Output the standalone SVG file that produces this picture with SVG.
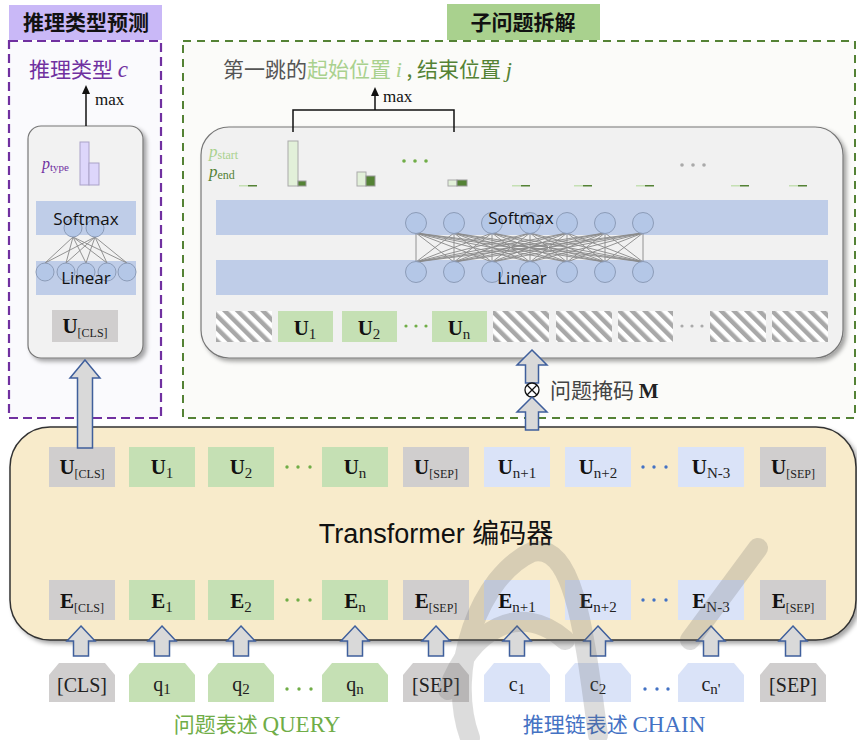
<svg xmlns="http://www.w3.org/2000/svg" width="857" height="740" viewBox="0 0 857 740">
<style>
.title{font-family:"Noto Sans CJK SC",sans-serif;font-weight:bold;font-size:21px;fill:#111}
.cjk{font-family:"Noto Sans CJK SC",sans-serif}
.serif{font-family:"Liberation Serif","Noto Sans CJK SC",serif}
.b{font-family:"Liberation Serif",serif;font-weight:bold;font-size:21px;fill:#111}
.s{font-family:"Liberation Serif",serif;font-size:15px;fill:#222}
.ss{font-family:"Liberation Serif",serif;font-size:12px;fill:#222}
.tok{font-family:"Liberation Serif",serif;font-size:20px;fill:#222}
.sans{font-family:"Open Sans","Liberation Sans",sans-serif;font-size:17px;fill:#111}
.gray{fill:#d0cece}
.green{fill:#c5e0b4}
.blue{fill:#dae3f8}
.band{fill:#bfcde8}
.neur{fill:#b4c7e7;stroke:#8c9cb8;stroke-width:1}
.blk{fill:#d9d9d9;stroke:#3f5f9c;stroke-width:1.5}
.ln{stroke:#888;stroke-width:0.9;fill:none}
.barL{fill:#e2f0d9;stroke:#aaa;stroke-width:1}
.barD{fill:#548235;stroke:#999;stroke-width:1}
.dotG{fill:#70ad47}
.dotB{fill:#4472c4}
.dotK{fill:#aaa}
</style>
<defs>
<pattern id="hatch" patternUnits="userSpaceOnUse" width="9" height="9" patternTransform="rotate(-45)">
<rect width="9" height="9" fill="#fff"/>
<rect width="4.5" height="9" fill="#a8a8a8"/>
</pattern>
<filter id="sh" x="-5%" y="-5%" width="115%" height="115%">
<feDropShadow dx="3" dy="3" stdDeviation="2" flood-color="#000" flood-opacity="0.35"/>
</filter>
<marker id="ah" markerWidth="10" markerHeight="10" refX="5" refY="5" orient="auto" markerUnits="userSpaceOnUse">
<path d="M0,1 L9,5 L0,9 Z" fill="#111"/>
</marker>
<path id="barrow" d="M0,0 L14,15 L7.5,15 L7.5,30 L-7.5,30 L-7.5,15 L-14,15 Z"/>
</defs>

<rect width="857" height="740" fill="#fff"/>

<!-- Left panel: reasoning type prediction -->
<g id="type-panel">
<rect x="9" y="5" width="153" height="35" fill="#c9b8f7"/>
<text x="86" y="30" text-anchor="middle" class="title">推理类型预测</text>
<rect x="9" y="41" width="152" height="377" fill="#fafafd" stroke="#7030a0" stroke-width="2.2" stroke-dasharray="9 5"/>
<text x="29" y="77" class="cjk" font-size="21" fill="#7030a0">推理类型 <tspan class="serif" font-style="italic" font-size="23">c</tspan></text>
<text x="95" y="105" class="serif" font-size="17" fill="#111">max</text>
</g>

<g id="type-head">
<rect x="28" y="126" width="115" height="232" rx="13" fill="#f2f2f2" stroke="#777" stroke-width="1.2" filter="url(#sh)"/>
<text x="42" y="169" class="serif" font-style="italic" font-size="16" fill="#7030a0">p<tspan font-size="11" font-style="normal" dy="2">type</tspan></text>
<rect x="80" y="142" width="9" height="43" fill="#ddd6fb" stroke="#aaa2c8"/>
<rect x="89" y="163" width="10" height="22" fill="#ddd6fb" stroke="#aaa2c8"/>
<rect x="36" y="201" width="100" height="34" class="band"/>
<rect x="36" y="261" width="100" height="34" class="band"/>
<path class="ln" d="M73 237L45 263M73 237L66 263M73 237L86 263M73 237L107 263M73 237L127 263M95 237L45 263M95 237L66 263M95 237L86 263M95 237L107 263M95 237L127 263"/>
<circle cx="73" cy="228" r="9" class="neur"/>
<circle cx="95" cy="228" r="9" class="neur"/>
<circle cx="45" cy="272" r="9" class="neur"/>
<circle cx="66" cy="272" r="9" class="neur"/>
<circle cx="86" cy="272" r="9" class="neur"/>
<circle cx="107" cy="272" r="9" class="neur"/>
<circle cx="127" cy="272" r="9" class="neur"/>
<text x="86" y="225" text-anchor="middle" class="sans">Softmax</text>
<text x="86" y="284" text-anchor="middle" class="sans">Linear</text>
<rect x="52" y="310" width="66" height="32" class="gray"/>
<text x="85" y="333" text-anchor="middle"><tspan class="b">U</tspan><tspan class="ss" dy="4">[CLS]</tspan></text>
</g>

<!-- Right panel: sub-question decomposition -->
<g id="span-panel">
<rect x="447" y="4" width="153" height="36" fill="#a9d18e"/>
<text x="523" y="30" text-anchor="middle" class="title">子问题拆解</text>
<rect x="183" y="41" width="672" height="377" fill="#fbfbf9" stroke="#548235" stroke-width="2" stroke-dasharray="8 6"/>
<text x="223" y="77" class="cjk" font-size="21" fill="#555">第一跳的<tspan fill="#a9d18e">起始位置 <tspan class="serif" font-style="italic" font-size="22">i</tspan></tspan><tspan fill="#548235"> , 结束位置 <tspan class="serif" font-style="italic" font-size="22">j</tspan></tspan></text>
<text x="383" y="102" class="serif" font-size="17" fill="#111">max</text>
</g>

<g id="span-head">
<rect x="201" y="127" width="642" height="231" rx="28" fill="#f1f1f1" stroke="#777" stroke-width="1.2" filter="url(#sh)"/>
<text x="209" y="157" class="serif" font-style="italic" font-size="17" fill="#a9d18e">p<tspan font-size="12" font-style="normal" dy="2">start</tspan></text>
<text x="209" y="177" class="serif" font-style="italic" font-size="17" fill="#548235">p<tspan font-size="12" font-style="normal" dy="2">end</tspan></text>
<rect x="288" y="141" width="10" height="45" class="barL"/>
<rect x="298" y="181" width="8" height="5" class="barD"/>
<rect x="357" y="172" width="9" height="14" class="barL"/>
<rect x="366" y="176" width="9" height="10" class="barD"/>
<rect x="448" y="180" width="9" height="6" class="barL"/>
<rect x="457" y="180" width="10" height="6" class="barD"/>
<g>
<rect x="239" y="185" width="9" height="1.5" fill="#c5e0b4"/><rect x="248" y="185" width="9" height="1.5" fill="#548235"/>
<rect x="512" y="185" width="9" height="1.5" fill="#c5e0b4"/><rect x="521" y="185" width="9" height="1.5" fill="#548235"/>
<rect x="574" y="185" width="9" height="1.5" fill="#c5e0b4"/><rect x="583" y="185" width="9" height="1.5" fill="#548235"/>
<rect x="636" y="185" width="9" height="1.5" fill="#c5e0b4"/><rect x="645" y="185" width="9" height="1.5" fill="#548235"/>
<rect x="731" y="185" width="9" height="1.5" fill="#c5e0b4"/><rect x="740" y="185" width="9" height="1.5" fill="#548235"/>
<rect x="789" y="185" width="9" height="1.5" fill="#c5e0b4"/><rect x="798" y="185" width="9" height="1.5" fill="#548235"/>
</g>
<circle cx="404" cy="161" r="1.8" class="dotG"/><circle cx="415" cy="161" r="1.8" class="dotG"/><circle cx="426" cy="161" r="1.8" class="dotG"/>
<circle cx="682" cy="165" r="1.8" class="dotK"/><circle cx="693" cy="165" r="1.8" class="dotK"/><circle cx="704" cy="165" r="1.8" class="dotK"/>
<rect x="216" y="200" width="612" height="35" class="band"/>
<rect x="216" y="260" width="612" height="35" class="band"/>
<path class="ln" d="M416 233L416 262M416 233L454 262M416 233L492 262M416 233L530 262M416 233L567 262M416 233L605 262M416 233L643 262M454 233L416 262M454 233L454 262M454 233L492 262M454 233L530 262M454 233L567 262M454 233L605 262M454 233L643 262M492 233L416 262M492 233L454 262M492 233L492 262M492 233L530 262M492 233L567 262M492 233L605 262M492 233L643 262M530 233L416 262M530 233L454 262M530 233L492 262M530 233L530 262M530 233L567 262M530 233L605 262M530 233L643 262M567 233L416 262M567 233L454 262M567 233L492 262M567 233L530 262M567 233L567 262M567 233L605 262M567 233L643 262M605 233L416 262M605 233L454 262M605 233L492 262M605 233L530 262M605 233L567 262M605 233L605 262M605 233L643 262M643 233L416 262M643 233L454 262M643 233L492 262M643 233L530 262M643 233L567 262M643 233L605 262M643 233L643 262"/>
<g>
<circle cx="416" cy="223" r="10.5" class="neur"/><circle cx="454" cy="223" r="10.5" class="neur"/><circle cx="492" cy="223" r="10.5" class="neur"/><circle cx="530" cy="223" r="10.5" class="neur"/><circle cx="567" cy="223" r="10.5" class="neur"/><circle cx="605" cy="223" r="10.5" class="neur"/><circle cx="643" cy="223" r="10.5" class="neur"/>
<circle cx="416" cy="272" r="10.5" class="neur"/><circle cx="454" cy="272" r="10.5" class="neur"/><circle cx="492" cy="272" r="10.5" class="neur"/><circle cx="530" cy="272" r="10.5" class="neur"/><circle cx="567" cy="272" r="10.5" class="neur"/><circle cx="605" cy="272" r="10.5" class="neur"/><circle cx="643" cy="272" r="10.5" class="neur"/>
</g>
<text x="521" y="224" text-anchor="middle" class="sans">Softmax</text>
<text x="522" y="284" text-anchor="middle" class="sans">Linear</text>
<rect x="216" y="311" width="56" height="31" fill="url(#hatch)"/>
<rect x="278" y="311" width="55" height="31" class="green"/>
<text x="305" y="335" text-anchor="middle"><tspan class="b">U</tspan><tspan class="s" dy="4">1</tspan></text>
<rect x="342" y="311" width="55" height="31" class="green"/>
<text x="369" y="335" text-anchor="middle"><tspan class="b">U</tspan><tspan class="s" dy="4">2</tspan></text>
<circle cx="406" cy="326" r="1.6" class="dotG"/><circle cx="416" cy="326" r="1.6" class="dotG"/><circle cx="426" cy="326" r="1.6" class="dotG"/>
<rect x="432" y="311" width="55" height="31" class="green"/>
<text x="459" y="335" text-anchor="middle"><tspan class="b">U</tspan><tspan class="s" dy="4">n</tspan></text>
<rect x="493" y="311" width="56" height="31" fill="url(#hatch)"/>
<rect x="556" y="311" width="56" height="31" fill="url(#hatch)"/>
<rect x="618" y="311" width="55" height="31" fill="url(#hatch)"/>
<circle cx="682" cy="326" r="1.6" class="dotK"/><circle cx="692" cy="326" r="1.6" class="dotK"/><circle cx="702" cy="326" r="1.6" class="dotK"/>
<rect x="710" y="311" width="56" height="31" fill="url(#hatch)"/>
<rect x="772" y="311" width="56" height="31" fill="url(#hatch)"/>
</g>

<!-- Encoder -->
<g id="encoder">
<rect x="10" y="427" width="846" height="213" rx="40" fill="#f8ebcb" stroke="#333" stroke-width="1.5" filter="url(#sh)"/>
<text x="436" y="543" text-anchor="middle" font-family="Liberation Sans, Noto Sans CJK SC, sans-serif" font-size="27" fill="#111">Transformer 编码器</text>
</g>

<g id="u-row">
<rect x="49" y="447" width="66" height="40" class="gray"/>
<text x="82" y="474" text-anchor="middle"><tspan class="b">U</tspan><tspan class="ss" dy="4">[CLS]</tspan></text>
<rect x="129" y="447" width="66" height="40" class="green"/>
<text x="162" y="474" text-anchor="middle"><tspan class="b">U</tspan><tspan class="s" dy="4">1</tspan></text>
<rect x="208" y="447" width="66" height="40" class="green"/>
<text x="241" y="474" text-anchor="middle"><tspan class="b">U</tspan><tspan class="s" dy="4">2</tspan></text>
<circle cx="287" cy="467" r="1.7" class="dotG"/><circle cx="298" cy="467" r="1.7" class="dotG"/><circle cx="310" cy="467" r="1.7" class="dotG"/>
<rect x="322" y="447" width="66" height="40" class="green"/>
<text x="355" y="474" text-anchor="middle"><tspan class="b">U</tspan><tspan class="s" dy="4">n</tspan></text>
<rect x="403" y="447" width="66" height="40" class="gray"/>
<text x="436" y="474" text-anchor="middle"><tspan class="b">U</tspan><tspan class="ss" dy="4">[SEP]</tspan></text>
<rect x="484" y="447" width="66" height="40" class="blue"/>
<text x="517" y="474" text-anchor="middle"><tspan class="b">U</tspan><tspan class="s" dy="4">n+1</tspan></text>
<rect x="565" y="447" width="66" height="40" class="blue"/>
<text x="598" y="474" text-anchor="middle"><tspan class="b">U</tspan><tspan class="s" dy="4">n+2</tspan></text>
<circle cx="643" cy="467" r="1.7" class="dotB"/><circle cx="654" cy="467" r="1.7" class="dotB"/><circle cx="666" cy="467" r="1.7" class="dotB"/>
<rect x="678" y="447" width="66" height="40" class="blue"/>
<text x="711" y="474" text-anchor="middle"><tspan class="b">U</tspan><tspan class="s" dy="4">N-3</tspan></text>
<rect x="760" y="447" width="66" height="40" class="gray"/>
<text x="793" y="474" text-anchor="middle"><tspan class="b">U</tspan><tspan class="ss" dy="4">[SEP]</tspan></text>
</g>

<g id="e-row">
<rect x="49" y="580" width="66" height="40" class="gray"/>
<text x="82" y="608" text-anchor="middle"><tspan class="b">E</tspan><tspan class="ss" dy="4">[CLS]</tspan></text>
<rect x="129" y="580" width="66" height="40" class="green"/>
<text x="162" y="608" text-anchor="middle"><tspan class="b">E</tspan><tspan class="s" dy="4">1</tspan></text>
<rect x="208" y="580" width="66" height="40" class="green"/>
<text x="241" y="608" text-anchor="middle"><tspan class="b">E</tspan><tspan class="s" dy="4">2</tspan></text>
<circle cx="287" cy="600" r="1.7" class="dotG"/><circle cx="298" cy="600" r="1.7" class="dotG"/><circle cx="310" cy="600" r="1.7" class="dotG"/>
<rect x="322" y="580" width="66" height="40" class="green"/>
<text x="355" y="608" text-anchor="middle"><tspan class="b">E</tspan><tspan class="s" dy="4">n</tspan></text>
<rect x="403" y="580" width="66" height="40" class="gray"/>
<text x="436" y="608" text-anchor="middle"><tspan class="b">E</tspan><tspan class="ss" dy="4">[SEP]</tspan></text>
<rect x="484" y="580" width="66" height="40" class="blue"/>
<text x="517" y="608" text-anchor="middle"><tspan class="b">E</tspan><tspan class="s" dy="4">n+1</tspan></text>
<rect x="565" y="580" width="66" height="40" class="blue"/>
<text x="598" y="608" text-anchor="middle"><tspan class="b">E</tspan><tspan class="s" dy="4">n+2</tspan></text>
<circle cx="643" cy="600" r="1.7" class="dotB"/><circle cx="654" cy="600" r="1.7" class="dotB"/><circle cx="666" cy="600" r="1.7" class="dotB"/>
<rect x="678" y="580" width="66" height="40" class="blue"/>
<text x="711" y="608" text-anchor="middle"><tspan class="b">E</tspan><tspan class="s" dy="4">N-3</tspan></text>
<rect x="760" y="580" width="66" height="40" class="gray"/>
<text x="793" y="608" text-anchor="middle"><tspan class="b">E</tspan><tspan class="ss" dy="4">[SEP]</tspan></text>
</g>

<g id="input-tokens">
<path class="gray" d="M49 675L59 663L105 663L115 675L115 702L49 702Z"/>
<text x="82" y="692" text-anchor="middle" class="tok">[CLS]</text>
<path class="green" d="M129 675L139 663L185 663L195 675L195 702L129 702Z"/>
<text x="162" y="691" text-anchor="middle" class="tok">q<tspan class="s" dy="3">1</tspan></text>
<path class="green" d="M208 675L218 663L264 663L274 675L274 702L208 702Z"/>
<text x="241" y="691" text-anchor="middle" class="tok">q<tspan class="s" dy="3">2</tspan></text>
<circle cx="287" cy="689" r="1.7" class="dotG"/><circle cx="299" cy="689" r="1.7" class="dotG"/><circle cx="311" cy="689" r="1.7" class="dotG"/>
<path class="green" d="M322 675L332 663L378 663L388 675L388 702L322 702Z"/>
<text x="355" y="691" text-anchor="middle" class="tok">q<tspan class="s" dy="3">n</tspan></text>
<path class="gray" d="M403 675L413 663L459 663L469 675L469 702L403 702Z"/>
<text x="436" y="692" text-anchor="middle" class="tok">[SEP]</text>
<path class="blue" d="M484 675L494 663L540 663L550 675L550 702L484 702Z"/>
<text x="517" y="691" text-anchor="middle" class="tok">c<tspan class="s" dy="3">1</tspan></text>
<path class="blue" d="M565 675L575 663L621 663L631 675L631 702L565 702Z"/>
<text x="598" y="691" text-anchor="middle" class="tok">c<tspan class="s" dy="3">2</tspan></text>
<circle cx="645" cy="689" r="1.7" class="dotB"/><circle cx="657" cy="689" r="1.7" class="dotB"/><circle cx="668" cy="689" r="1.7" class="dotB"/>
<path class="blue" d="M678 675L688 663L734 663L744 675L744 702L678 702Z"/>
<text x="711" y="691" text-anchor="middle" class="tok">c<tspan class="s" dy="3">n'</tspan></text>
<path class="gray" d="M760 675L770 663L816 663L826 675L826 702L760 702Z"/>
<text x="793" y="692" text-anchor="middle" class="tok">[SEP]</text>
<text x="257" y="732" text-anchor="middle" class="cjk" font-size="21" fill="#70ad47">问题表述 <tspan class="serif" font-size="23">QUERY</tspan></text>
<text x="614" y="732" text-anchor="middle" class="cjk" font-size="21" fill="#4472c4">推理链表述 <tspan class="serif" font-size="23">CHAIN</tspan></text>
</g>

<!-- Connectors -->
<g id="connectors">
<line x1="86" y1="126" x2="86" y2="89" stroke="#111" stroke-width="1.5" marker-end="url(#ah)"/>
<path d="M293 132L293 110L454 110L454 132" fill="none" stroke="#111" stroke-width="1.5"/>
<line x1="375" y1="110" x2="375" y2="91" stroke="#111" stroke-width="1.5" marker-end="url(#ah)"/>
<path class="blk" d="M85 360L100 378L92.5 378L92.5 448L77.5 448L77.5 378L70 378Z"/>
<path class="blk" d="M532 350L547 365L538.5 365L538.5 383L525.5 383L525.5 365L517 365Z"/>
<circle cx="532" cy="390" r="7" fill="#fff" stroke="#111" stroke-width="1.3"/>
<path d="M527 385L537 395M537 385L527 395" stroke="#111" stroke-width="1.3"/>
<path class="blk" d="M532 397L547 412L538.5 412L538.5 430L525.5 430L525.5 412L517 412Z"/>
<text x="550" y="398" class="cjk" font-size="21" fill="#444">问题掩码 <tspan class="serif" font-weight="bold" fill="#222">M</tspan></text>
<use href="#barrow" x="81" y="626" class="blk"/>
<use href="#barrow" x="162" y="626" class="blk"/>
<use href="#barrow" x="241" y="626" class="blk"/>
<use href="#barrow" x="355" y="626" class="blk"/>
<use href="#barrow" x="436" y="626" class="blk"/>
<use href="#barrow" x="517" y="626" class="blk"/>
<use href="#barrow" x="598" y="626" class="blk"/>
<use href="#barrow" x="711" y="626" class="blk"/>
<use href="#barrow" x="793" y="626" class="blk"/>
</g>

<!-- watermark -->
<g opacity="0.22" fill="none" stroke="#666" stroke-width="20" stroke-linecap="round">
<path d="M470 738C445 670 480 575 532 552C575 540 585 640 598 735"/>
<path d="M448 690C470 630 520 600 565 640"/>
<path d="M690 640L758 548"/>
</g>
</svg>
